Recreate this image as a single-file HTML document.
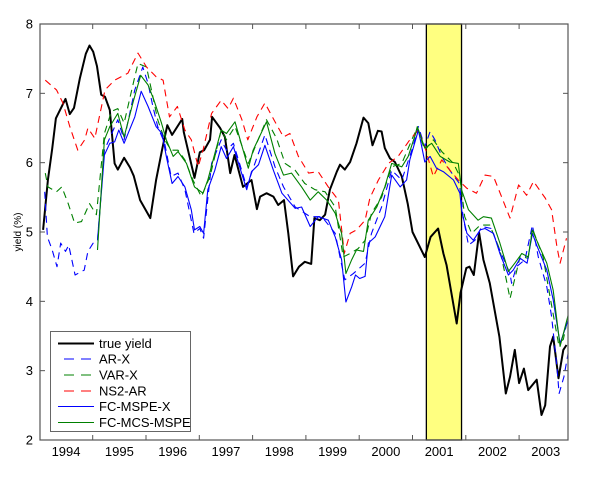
<!DOCTYPE html>
<html><head><meta charset="utf-8"><style>
html,body{margin:0;padding:0;background:#fff;}
svg{display:block;font-family:"Liberation Sans",Arial,sans-serif;}
</style></head><body>
<svg id="chart" width="600" height="484" viewBox="0 0 600 484">
<g id="plot"></g>
</svg>
<script>
// time in years since 1994.0, values in %
const trueT=[.07,.16,.24,.31,.49,.57,.65,.76,.87,.94,1.01,1.08,1.16,1.23,1.32,1.41,1.47,1.59,1.70,1.77,1.89,2.08,2.19,2.30,2.40,2.49,2.68,2.71,2.91,3.01,3.09,3.20,3.24,3.39,3.48,3.58,3.66,3.82,3.98,4.08,4.14,4.26,4.39,4.48,4.59,4.67,4.76,4.87,4.98,5.10,5.16,5.26,5.36,5.45,5.58,5.64,5.73,5.83,5.95,6.08,6.17,6.25,6.35,6.42,6.48,6.58,6.67,6.80,6.91,7.00,7.23,7.34,7.48,7.58,7.64,7.83,7.90,8.01,8.07,8.15,8.25,8.33,8.45,8.63,8.75,8.83,8.92,9.00,9.09,9.17,9.33,9.42,9.49,9.58,9.64,9.74,9.83,9.89];
const trueV=[5.03,5.75,6.2,6.64,6.92,6.7,6.79,7.22,7.57,7.69,7.6,7.39,6.98,6.95,6.76,5.99,5.9,6.07,5.93,5.81,5.46,5.2,5.75,6.18,6.54,6.4,6.63,6.44,5.78,6.15,6.18,6.33,6.66,6.5,6.37,5.85,6.11,5.65,5.75,5.33,5.51,5.56,5.51,5.39,5.46,4.98,4.36,4.5,4.57,4.54,5.2,5.17,5.25,5.61,5.87,5.97,5.9,6.01,6.28,6.65,6.57,6.25,6.46,6.45,6.21,6.06,6.01,5.8,5.41,5.0,4.64,4.93,5.05,4.69,4.52,3.68,4.12,4.48,4.5,4.38,4.99,4.6,4.26,3.49,2.67,2.91,3.3,2.82,3.03,2.72,2.87,2.36,2.5,3.35,3.49,2.89,3.3,3.37];

const arxT=[.10,.15,.24,.33,.40,.49,.55,.67,.84,.91,1.01,1.09,1.22,1.47,1.59,1.79,1.94,2.04,2.13,2.22,2.35,2.47,2.60,2.73,2.90,3.01,3.08,3.23,3.41,3.51,3.64,3.89,4.23,4.42,4.58,4.80,5.08,5.30,5.55,5.64,5.73,5.89,6.11,6.23,6.42,6.61,6.80,7.01,7.11,7.23,7.33,7.42,7.55,7.70,7.88,7.95,8.05,8.17,8.30,8.48,8.61,8.83,8.86,8.95,9.11,9.25,9.36,9.52,9.61,9.71,9.75,9.84,9.92];
const arxV=[5.58,4.93,4.74,4.5,4.84,4.72,4.81,4.38,4.45,4.72,4.84,4.88,6.18,6.62,6.33,7.05,7.38,7.14,6.81,6.52,6.28,5.8,5.85,5.61,4.98,5.05,4.91,5.99,6.33,6.18,6.28,5.65,6.4,5.94,5.65,5.36,5.22,5.22,4.98,4.64,4.31,4.4,4.55,4.98,5.36,5.89,5.75,6.23,6.52,6.23,6.45,6.33,6.09,5.89,5.7,5.22,4.81,4.88,5.08,5.05,4.79,4.4,4.26,4.5,4.6,5.1,4.64,4.21,3.78,3.06,2.67,2.91,3.25];

const varxT=[.11,.16,.32,.42,.54,.66,.79,.94,1.07,1.22,1.35,1.47,1.59,1.79,1.85,2.01,2.13,2.22,2.35,2.47,2.60,2.73,2.88,3.04,3.20,3.41,3.51,3.67,3.92,4.26,4.45,4.61,4.80,4.98,5.17,5.36,5.55,5.70,5.83,5.98,6.11,6.23,6.42,6.61,6.80,7.01,7.09,7.23,7.39,7.55,7.77,7.89,7.98,8.11,8.27,8.45,8.64,8.76,8.83,9.02,9.17,9.25,9.45,9.58,9.74,9.83,9.92];
const varxV=[5.85,5.65,5.58,5.65,5.41,5.13,5.15,5.41,5.25,6.42,6.74,6.78,6.57,7.24,7.43,7.38,6.95,6.62,6.33,6.18,6.18,6.04,5.75,5.51,5.8,6.47,6.33,6.52,5.99,6.62,6.35,5.99,5.89,5.7,5.61,5.58,5.36,4.64,4.69,4.76,4.88,5.27,5.5,5.94,5.99,6.37,6.5,6.18,6.33,6.16,5.99,5.8,5.22,4.98,5.1,5.1,4.74,4.31,4.04,4.65,4.62,5.05,4.64,4.07,3.39,3.45,3.78];

const nsT=[.11,.32,.44,.57,.72,.85,.91,1.04,1.23,1.41,1.66,1.85,2.01,2.19,2.32,2.44,2.59,2.73,2.85,2.98,3.07,3.23,3.41,3.54,3.64,3.80,3.91,4.08,4.23,4.42,4.58,4.70,4.86,5.05,5.23,5.42,5.61,5.72,5.83,5.95,6.11,6.20,6.36,6.55,6.73,6.95,7.11,7.23,7.39,7.55,7.67,7.86,8.02,8.20,8.36,8.52,8.67,8.83,8.99,9.14,9.27,9.49,9.61,9.71,9.77,9.89];
const nsV=[7.19,7.05,6.86,6.52,6.18,6.33,6.5,6.35,7.05,7.19,7.29,7.58,7.38,7.24,7.19,6.66,6.81,6.47,6.33,5.94,6.18,6.71,6.9,6.78,6.93,6.62,6.33,6.66,6.86,6.59,6.37,6.42,6.09,5.85,5.87,5.65,5.46,4.69,4.98,5.03,5.17,5.49,5.75,5.99,6.09,6.33,6.47,6.23,5.8,6.04,5.92,5.75,5.63,5.56,5.82,5.8,5.51,5.2,5.68,5.53,5.73,5.49,5.32,4.79,4.55,4.91];

const fcxT=[1.09,1.22,1.32,1.41,1.49,1.59,1.79,1.91,2.04,2.19,2.30,2.38,2.49,2.60,2.73,2.85,2.91,3.01,3.08,3.16,3.29,3.41,3.51,3.64,3.89,3.98,4.11,4.23,4.39,4.55,4.80,4.92,5.08,5.23,5.42,5.55,5.67,5.75,5.86,5.93,6.01,6.11,6.17,6.30,6.48,6.61,6.77,6.89,6.95,7.11,7.23,7.33,7.45,7.58,7.77,7.89,7.92,8.02,8.14,8.27,8.36,8.52,8.64,8.80,8.89,9.02,9.15,9.25,9.33,9.52,9.64,9.77,9.92];
const fcxV=[4.88,6.11,6.28,6.3,6.47,6.28,6.66,7.03,6.81,6.52,6.42,6.09,5.7,5.8,5.65,5.32,5.03,5.08,4.98,5.61,5.89,6.23,6.06,6.23,5.61,5.87,5.97,6.25,5.89,5.56,5.34,5.36,5.08,5.22,5.17,4.93,4.6,3.99,4.21,4.38,4.33,4.36,4.84,4.93,5.22,5.82,5.65,5.75,6.04,6.47,6.01,6.09,5.92,5.87,5.75,5.56,5.32,4.98,4.88,5.03,5.05,4.98,4.69,4.38,4.45,4.62,4.55,4.98,4.81,4.45,4.02,3.39,3.73];

const mcsT=[1.09,1.22,1.32,1.47,1.59,1.76,1.90,2.04,2.15,2.29,2.38,2.51,2.60,2.76,2.91,3.07,3.16,3.29,3.41,3.51,3.67,3.92,4.01,4.26,4.42,4.58,4.73,4.92,5.08,5.23,5.39,5.55,5.67,5.75,5.86,5.95,6.08,6.17,6.33,6.48,6.61,6.80,6.92,7.05,7.09,7.23,7.36,7.52,7.70,7.86,7.92,8.05,8.23,8.33,8.48,8.64,8.80,8.92,9.05,9.17,9.25,9.33,9.52,9.64,9.77,9.92];
const mcsV=[4.74,6.33,6.52,6.71,6.37,6.88,7.26,7.12,6.9,6.57,6.33,6.09,6.16,5.99,5.65,5.56,5.75,6.13,6.47,6.42,6.59,5.92,6.18,6.59,6.13,5.82,5.85,5.65,5.46,5.58,5.46,5.27,4.98,4.4,4.6,4.74,4.72,5.17,5.36,5.65,5.99,5.94,6.09,6.4,6.52,6.21,6.28,6.09,6.01,5.99,5.61,5.32,5.17,5.22,5.2,4.84,4.43,4.55,4.69,4.64,5.03,4.88,4.55,4.16,3.35,3.8];

const yTicks=[2,3,4,5,6,7,8];
const xLabels=["1994","1995","1996","1997","1998","1999","2000","2001","2002","2003"];
const recession=[7.26,7.92];

const NS="http://www.w3.org/2000/svg";
const L=40,R=568,T=24,B=440,YMIN=2,YMAX=8,X0=39.4,PXY=53.3;
const xs=t=>X0+PXY*t;
const ys=v=>B-(v-YMIN)/(YMAX-YMIN)*(B-T);
const svg=document.getElementById('chart');
const plot=document.getElementById('plot');
function mk(tag,attrs,parent){const e=document.createElementNS(NS,tag);for(const k in attrs)e.setAttribute(k,attrs[k]);(parent||svg).appendChild(e);return e;}

// recession band
const band=mk('rect',{x:xs(recession[0]),y:T,width:xs(recession[1])-xs(recession[0]),height:B-T,fill:'#ffff80',stroke:'#000','stroke-width':1.3},plot);



const series=[
 {name:'series-true-yield',t:trueT,v:trueV,c:'#000',w:2,d:''},
 {name:'series-ar-x',t:arxT,v:arxV,c:'#0000ff',w:1.1,d:'7,5'},
 {name:'series-var-x',t:varxT,v:varxV,c:'#008000',w:1.1,d:'7,5'},
 {name:'series-ns2-ar',t:nsT,v:nsV,c:'#ff0000',w:1.1,d:'7,5'},
 {name:'series-fc-mspe-x',t:fcxT,v:fcxV,c:'#0000ff',w:1.1,d:''},
 {name:'series-fc-mcs-mspe',t:mcsT,v:mcsV,c:'#008000',w:1.1,d:''}
];
series.forEach(s=>{
  const p=s.t.map((t,i)=>xs(t).toFixed(1)+','+ys(s.v[i]).toFixed(1)).join(' ');
  const a={points:p,fill:'none',stroke:s.c,'stroke-width':s.w,'stroke-linejoin':'round'};
  if(s.d)a['stroke-dasharray']=s.d;
  const pl=mk('polyline',a,plot);
  
  
});

// axes box
const box=mk('rect',{x:L,y:T,width:R-L,height:B-T,fill:'none',stroke:'#555','stroke-width':1.2});



yTicks.forEach(v=>{
  const y=ys(v);
  mk('line',{x1:L,x2:L+5,y1:y,y2:y,stroke:'#555'});
  mk('line',{x1:R,x2:R-5,y1:y,y2:y,stroke:'#555'});
  const tx=mk('text',{x:L-7,y:y+4.5,'text-anchor':'end','font-size':13,fill:'#000'});
  tx.textContent=v;
  
  
});
for(let i=1;i<xLabels.length;i++){
  const x=xs(i);
  mk('line',{x1:x,x2:x,y1:B,y2:B-5,stroke:'#555'});
  mk('line',{x1:x,x2:x,y1:T,y2:T+5,stroke:'#555'});
}
xLabels.forEach((lab,i)=>{
  const tx=mk('text',{x:xs(i+0.5),y:456,'text-anchor':'middle','font-size':13,fill:'#000'});
  tx.textContent=lab;
  
  
});
const yl=mk('text',{x:0,y:0,transform:'translate(21,232) rotate(-90)','text-anchor':'middle','font-size':10,fill:'#000'});
yl.textContent='yield (%)';



// legend
const lg=mk('g',{});


mk('rect',{x:50.5,y:331.5,width:140,height:100,fill:'#fff',stroke:'#666','stroke-width':1},lg);
const labels=['true yield','AR-X','VAR-X','NS2-AR','FC-MSPE-X','FC-MCS-MSPE'];
const rows=[343.5,359,375,391,406.5,422.5];
series.forEach((s,i)=>{
  const g=mk('g',{},lg);
  
  
  const a={x1:58,x2:94,y1:rows[i],y2:rows[i],stroke:s.c,'stroke-width':s.w};
  if(s.d){a['stroke-dasharray']='10,7';a.x1=64;}
  mk('line',a,g);
  const tx=mk('text',{x:99,y:rows[i]+4.5,'font-size':13,fill:'#000'},g);
  tx.textContent=labels[i];
});
</script>
</body></html>
